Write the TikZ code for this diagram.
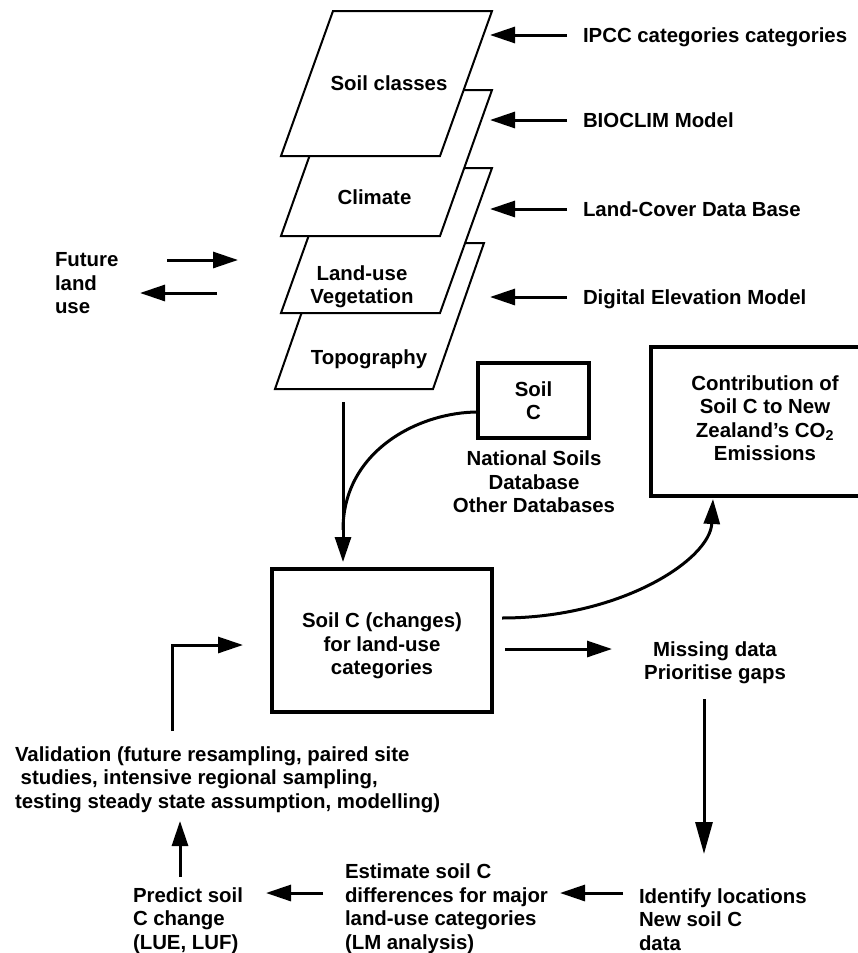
\documentclass[tikz,border=0pt]{standalone}
\usepackage{fontspec}
\setmainfont{Liberation Sans}
\usetikzlibrary{arrows.meta}
\begin{document}
\begin{tikzpicture}[x=1pt,y=-1pt,
  every node/.style={font=\bfseries\fontsize{20.4}{23.5}\selectfont, inner sep=0pt, outer sep=0pt},
  single/.style={text height=14.7pt, text depth=0pt},
  plane/.style={draw, fill=white, line width=2pt, line join=miter},
  arr/.style={line width=3pt, line join=miter, -{Triangle[length=25pt,width=16pt]}},
  bigarr/.style={line width=3pt, -{Triangle[length=32pt,width=17pt]}},
  link/.style={line width=3pt},
  box/.style={draw, line width=3.3pt},
  lbl/.style={align=left, anchor=west},
  ctr/.style={align=center}]
\useasboundingbox (0,0) rectangle (858,953);
\clip (0,0) rectangle (858,953);

% stacked map layers (back to front)
\draw[plane] (326,243) -- (484,243) -- (433,389) -- (275,389) -- cycle;
\draw[plane] (333,168) -- (492,168) -- (440,313) -- (281,313) -- cycle;
\draw[plane] (333,90) -- (492,90) -- (440,236) -- (281,236) -- cycle;
\draw[plane] (333,11) -- (492,11) -- (440,156) -- (281,156) -- cycle;

\node[ctr,single] (tSoil) at (389,83) {Soil classes};
\node[ctr,single] (tClim) at (374.5,197) {Climate};
\node[ctr] (tLand) at (362,287) {Land-use\\Vegetation};
\node[ctr,single] (tTopo) at (369,357) {Topography};

% data sources on the right
\node[lbl,single] (ipcc) at (583,35) {IPCC categories categories};
\node[lbl,single] (bioclim) at (583,120) {BIOCLIM Model};
\node[lbl,single] (lcdb) at (583,209) {Land-Cover Data Base};
\node[lbl,single] (dem) at (583,297) {Digital Elevation Model};
\coordinate (ipccTip) at (490,35);
\coordinate (bioTip) at (490,120);
\coordinate (lcdbTip) at (490,209);
\coordinate (demTip) at (490,297);
\draw[arr] ([xshift=-16pt]ipcc.west) -- (ipccTip);
\draw[arr] ([xshift=-16pt]bioclim.west) -- (bioTip);
\draw[arr] ([xshift=-16pt]lcdb.west) -- (lcdbTip);
\draw[arr] ([xshift=-16pt]dem.west) -- (demTip);

% future land use
\node[lbl] (future) at (55,283.5) {Future\\land\\use};
\coordinate (fOut1) at (167,260);
\coordinate (fOut2) at (238,260);
\coordinate (fIn1) at (217,293);
\coordinate (fIn2) at (140,293);
\draw[arr] (fOut1) -- (fOut2);
\draw[arr] (fIn1) -- (fIn2);

% Soil C source box
\node[box, minimum width=111pt, minimum height=75pt, align=center] (soilc) at (533.5,400.5) {Soil\\C};
\node[ctr] (ndb) at (534,482) {National Soils\\Database\\Other Databases};

% main box
\node[box, minimum width=220pt, minimum height=143pt] (main) at (382,640.5) {};
\node[ctr] (mainText) at (382,646) {Soil C (changes)\\for land-use\\categories};

% contribution box (runs off the right edge)
\node[box, minimum width=229pt, minimum height=149pt] (contrib) at (765.5,421.5) {};
\node[ctr] (contribText) at (765,418) {Contribution of\\Soil C to New\\Zealand’s CO\textsubscript{2}\\Emissions};

% layers -> main
\coordinate (topoBot) at (343,402);
\coordinate (join) at (343,530);
\draw[arr, shorten >=7pt] (topoBot) -- (topoBot |- main.north);
\draw[link] ([yshift=-11.5pt]soilc.west) .. controls (420,412) and (343,450) .. (join);

% main -> contribution
\coordinate (cTip) at (713,499);
\draw[arr] ([shift={(10pt,22.5pt)}]main.east) .. controls (620,618) and (710,560) .. (cTip);

% loop
\node[ctr] (missing) at (715,663) {Missing data\\Prioritise gaps};
\node[lbl] (identify) at (639,919.5) {Identify locations\\New soil C\\data};
\node[lbl] (estimate) at (345,908.5) {Estimate soil C\\differences for major\\land-use categories\\(LM analysis)};
\node[lbl] (predict) at (133,920.5) {Predict soil\\C change\\(LUE, LUF)};
\node[lbl] (valid) at (15,779.6) {Validation (future resampling, paired site\\\hspace*{5.7pt}studies, intensive regional sampling,\\testing steady state assumption, modelling)};

\coordinate (mR1) at (505,649);
\coordinate (mR2) at (612,649);
\draw[arr] (mR1) -- (mR2);
\coordinate (dn1) at (704,699);
\coordinate (dn2) at (704,854);
\draw[bigarr] (dn1) -- (dn2);
\coordinate (l1a) at (623,893);
\coordinate (l1b) at (560,893);
\draw[arr] (l1a) -- (l1b);
\coordinate (l2a) at (323,893);
\coordinate (l2b) at (266,893);
\draw[arr] (l2a) -- (l2b);
\coordinate (up1) at (180,877);
\coordinate (up2) at (180,821);
\draw[arr] (up1) -- (up2);
\coordinate (v1) at (172,731);
\coordinate (v2) at (243,645);
\draw[arr] (v1) |- (v2);
\end{tikzpicture}
\end{document}
